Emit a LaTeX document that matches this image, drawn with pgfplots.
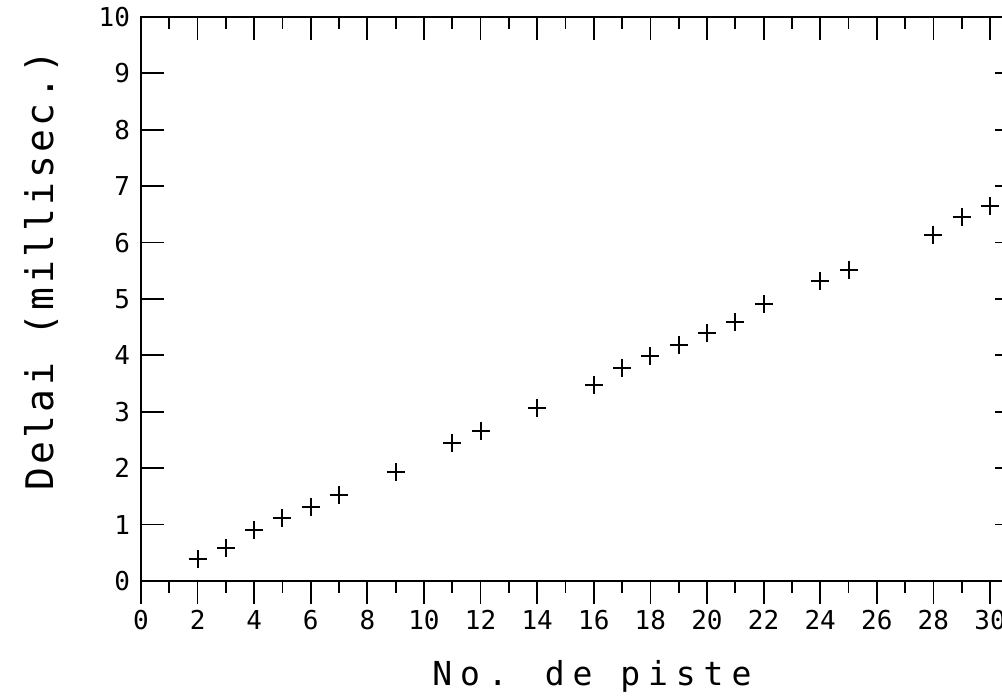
\documentclass[border=0pt]{standalone}
\usepackage{fontspec}
\setmainfont{DejaVu Sans Mono}
\newfontfamily\ylabfont[LetterSpace=9]{DejaVu Sans Mono}
\newfontfamily\xlabfont[LetterSpace=24]{DejaVu Sans Mono}
\usepackage{pgfplots}
\pgfplotsset{compat=1.18}
\pgfplotstableread{
x y
2 0.39
3 0.59
4 0.90
5 1.11
6 1.32
7 1.52
9 1.93
11 2.45
12 2.66
14 3.06
16 3.48
17 3.78
18 3.99
19 4.18
20 4.39
21 4.59
22 4.91
24 5.32
25 5.52
28 6.14
29 6.45
30 6.65
}\delai
\begin{document}
\begin{tikzpicture}
\begin{axis}[name=ax,
  x=14.15pt, y=28.2pt,
  xmin=0, xmax=31, ymin=0, ymax=10,
  xtick={0,2,...,30}, minor x tick num=1, ytick={0,1,...,10},
  xtick pos=right, xticklabel pos=left, ytick pos=both,
  tick align=inside, major tick length=11.5pt, minor tick length=6pt,
  axis line style={line width=1pt},
  every tick/.style={line width=0.9pt, black},
  tick label style={font=\fontsize{13}{13}\selectfont},
  /pgf/number format/assume math mode=true,
  xticklabel style={yshift=-11pt},
  yticklabel style={xshift=-2pt},
  xlabel={\xlabfont\fontsize{16.5}{16.5}\selectfont No. de piste},
  xlabel style={at={(axis description cs:0.514,0)}, anchor=base, yshift=-52.5pt},
  ylabel={\ylabfont\fontsize{19}{19}\selectfont Delai (millisec.)},
  ylabel style={at={(axis description cs:-0.114,0.55)}, anchor=center},
]
\addplot[only marks, mark=+, mark size=4.5pt, line width=1pt, black] table[x=x,y=y]{\delai};
\end{axis}
\begin{axis}[
  x=14.15pt, y=28.2pt,
  xmin=0, xmax=31, ymin=0, ymax=10,
  axis x line*=bottom, axis y line=none,
  xtick={0,2,...,30}, minor x tick num=1, xticklabels={},
  tick align=outside, major tick length=11.5pt, minor tick length=6pt,
  axis line style={line width=1pt, -},
  every tick/.style={line width=0.9pt, black},
]
\addplot[draw=none] coordinates {(0,0)};
\end{axis}
\pgfresetboundingbox
\useasboundingbox ([xshift=-70.5pt, yshift=-59pt]ax.south west) rectangle ([xshift=430.5pt, yshift=290.5pt]ax.south west);
\end{tikzpicture}
\end{document}
